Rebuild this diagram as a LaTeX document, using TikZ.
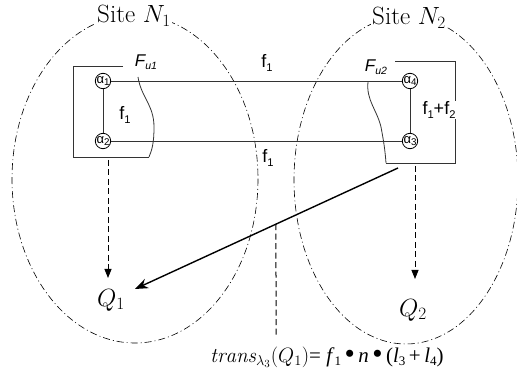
\documentclass[tikz,border=0pt]{standalone}
\usepackage{graphicx}
\usepackage{fontspec}
\newfontfamily\arial{Liberation Sans}
\newfontfamily\tnr{Liberation Serif}
\usetikzlibrary{arrows.meta,calc}
\newcommand\sbs[1]{\raisebox{-0.35ex}{\scalebox{0.62}{#1}}}
\newcommand\asbs[1]{\raisebox{-0.2ex}{\scalebox{0.75}{#1}}}
\newcommand\bigdot{\,\raisebox{-0.1ex}{\scalebox{1.4}{•}}\,}
\tikzset{
  site/.style={draw, line width=0.6pt, dash pattern=on 7pt off 3pt on 1pt off 3pt},
  sitelbl/.style={fill=white, inner sep=1pt, font=\fontsize{25}{27}\selectfont},
  atom/.style={circle, draw, line width=0.8pt, minimum size=15pt, inner sep=0pt, font=\arial\fontsize{13}{13}\selectfont},
  link/.style={draw=black!80, line width=0.8pt},
  flbl/.style={font=\arial\fontsize{18}{20}\selectfont, inner sep=1pt},
  fulbl/.style={font=\arial\itshape\fontsize{17}{20}\selectfont, inner sep=1pt, fill=white},
  qlbl/.style={font=\fontsize{27}{29}\selectfont, inner sep=1pt},
  dasharrow/.style={draw, line width=0.9pt, dash pattern=on 6pt off 3.5pt, -{Triangle[length=9pt,width=7pt]}},
  mainarrow/.style={draw, line width=1.4pt, -{Stealth[length=13pt,width=10pt]}},
  guide/.style={draw=black, line width=1pt, dash pattern=on 6pt off 3.5pt},
}
\begin{document}
\begin{tikzpicture}[x=1pt,y=-1pt]
\useasboundingbox (0,0) rectangle (517,379);
% sites
\draw[site] (135,179) ellipse [x radius=123, y radius=164];
\draw[site] (406,180) ellipse [x radius=112, y radius=164];
\node[sitelbl] (s1) at (134,16) {Site $N_1$};
\node[sitelbl] (s2) at (409,18) {Site $N_2$};
% boxes
\draw[link] (123,66) -- (73,66) -- (73,157) -- (149,157);
\draw[link] (138,77) .. controls (141,97) and (154,105) .. (154,127) .. controls (154,143) and (152,150) .. (149,157);
\draw[link] (395,61) -- (455,61) -- (455,163) -- (386,163);
\draw[link] (368,82) .. controls (366,100) and (377,110) .. (381,127) .. controls (384,143) and (385,150) .. (386,163);
% atoms
\node[atom] (a1) at (103,81) {α\asbs{1}};
\node[atom] (a2) at (103,141) {α\asbs{2}};
\node[atom] (a4) at (410,81) {α\asbs{4}};
\node[atom] (a3) at (410,141) {α\asbs{3}};
\draw[link] (a1) -- (a4);
\draw[link] (a2) -- (a3);
\draw[link] (a1) -- (a2);
\draw[link] (a4) -- (a3);
% labels
\node[flbl] (l1) at (125,115) {f\sbs{1}};
\node[flbl] (l2) at (267,63) {f\sbs{1}};
\node[flbl] (l3) at (268,158) {f\sbs{1}};
\node[flbl, fill=white] (l4) at (439,110) {f\sbs{1}+f\sbs{2}};
\node[fulbl] (fu1) at (146,62) {F\sbs{u1}};
\node[fulbl] (fu2) at (376,67) {F\sbs{u2}};
% queries
\node[qlbl] (q1) at (111,300) {$Q_1$};
\node[qlbl] (q2) at (413,310) {$Q_2$};
\coordinate (d1s) at (108,160);
\coordinate (d1e) at (108,278);
\coordinate (d2s) at (415,166);
\coordinate (d2e) at (415,279);
\path[dasharrow] (d1s) -- (d1e);
\path[dasharrow] (d2s) -- (d2e);
\coordinate (ms) at (398,168);
\coordinate (me) at (135,289);
\path[mainarrow] (ms) -- (me);
\coordinate (gs) at ($(ms)!0.4639!(me)$);
\coordinate (ge) at (276,335);
\path[guide] (gs) -- (ge);
% formula
\node[inner sep=0pt, anchor=west] (form) at (210,357) {\fontsize{21}{24}\selectfont$\mathit{trans}_{\lambda_3}(Q_1)$\tnr\fontsize{21}{24}\selectfont= \textit{f}\sbs{1}\bigdot\textit{n}\bigdot(\textit{l}\sbs{3}\,+\,\textit{l}\sbs{4})};
\end{tikzpicture}
\end{document}
